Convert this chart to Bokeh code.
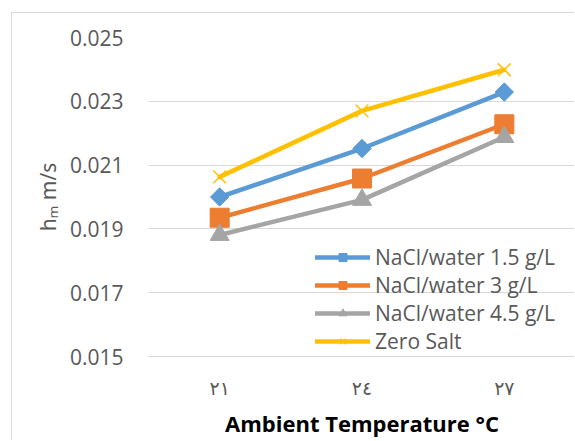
import math
from bokeh.plotting import figure
from bokeh.models import Legend, LegendItem, FactorRange, Range1d, FixedTicker, CustomJSTickFormatter
from bokeh.embed import file_html
from bokeh.resources import INLINE

# ---- data ----
temps = ["٢١", "٢٤", "٢٧"]
nacl_15 = [0.02000, 0.02152, 0.02329]
nacl_3 = [0.01935, 0.02058, 0.02228]
nacl_45 = [0.01881, 0.01991, 0.02188]
zero_salt = [0.02063, 0.02270, 0.02399]
y_ticks = [0.015, 0.017, 0.019, 0.021, 0.023, 0.025]
series_names = ["NaCl/water 1.5 g/L", "NaCl/water 3 g/L", "NaCl/water 4.5 g/L", "Zero Salt"]

FONT = "Open Sans"
GRAY_TXT = "#595959"

p = figure(width=563, height=428,
           x_range=FactorRange(*temps), y_range=Range1d(0.015, 0.025),
           output_backend="svg", toolbar_location=None,
           min_border_left=136, min_border_right=0, min_border_top=24, min_border_bottom=85)
p.styles = {"border-left": "1px solid #d9d9d9", "border-top": "1px solid #d9d9d9",
            "position": "absolute", "left": "11px", "top": "12px"}

p.outline_line_color = None
p.background_fill_color = "white"
p.border_fill_color = "white"

p.xgrid.grid_line_color = None
p.ygrid.grid_line_color = "#d9d9d9"
p.ygrid.grid_line_width = 1

p.yaxis.ticker = FixedTicker(ticks=y_ticks)
p.yaxis.formatter = CustomJSTickFormatter(code="return tick.toFixed(3);")
p.yaxis.axis_line_color = None
p.yaxis.major_tick_line_color = None
p.yaxis.minor_tick_line_color = None
p.yaxis.major_label_standoff = 19
p.yaxis.major_label_text_font = FONT
p.yaxis.major_label_text_font_size = "21px"
p.yaxis.major_label_text_color = GRAY_TXT
p.yaxis.axis_label = "hₘ m/s"
p.yaxis.axis_label_text_font = "Noto Sans"
p.yaxis.axis_label_text_font_style = "normal"
p.yaxis.axis_label_text_font_size = "21px"
p.yaxis.axis_label_text_color = GRAY_TXT
p.yaxis.axis_label_standoff = 5

p.xaxis.axis_line_color = "#d9d9d9"
p.xaxis.major_tick_line_color = None
p.xaxis.minor_tick_line_color = None
p.xaxis.major_label_standoff = 14
p.xaxis.major_label_text_font = "DejaVu Sans"
p.xaxis.major_label_text_font_size = "19px"
p.xaxis.major_label_text_color = GRAY_TXT
p.xaxis.axis_label = "Ambient Temperature °C"
p.xaxis.axis_label_text_font = FONT
p.xaxis.axis_label_text_font_style = "bold"
p.xaxis.axis_label_text_font_size = "22px"
p.xaxis.axis_label_text_color = "black"
p.xaxis.axis_label_standoff = 6

colors = ["#5B9BD5", "#ED7D31", "#A5A5A5", "#FFC000"]
markers = ["square", "square", "triangle", "x"]
angles = [math.pi / 4, 0, 0, 0]
sizes = [13, 19, 19, 18]
data = [nacl_15, nacl_3, nacl_45, zero_salt]

items = []
for name, ys, c, m, a, s in zip(series_names, data, colors, markers, angles, sizes):
    ln = p.line(temps, ys, line_color=c, line_width=4.5, line_join="round", line_cap="round")
    if m == "x":
        sc = p.scatter(temps, ys, marker=m, size=s, line_color=c, line_width=1.5)
    else:
        sc = p.scatter(temps, ys, marker=m, size=s, angle=a, fill_color=c, line_color=c)
    items.append(LegendItem(label=name, renderers=[ln, sc]))

legend = Legend(items=items, location=(167, 1))
legend.background_fill_alpha = 0
legend.border_line_color = None
legend.padding = 0
legend.margin = 0
legend.spacing = -2
legend.glyph_width = 55
legend.glyph_height = 20
legend.label_height = 20
legend.label_standoff = 5
legend.label_text_font = FONT
legend.label_text_font_size = "21px"
legend.label_text_color = GRAY_TXT
p.add_layout(legend, "center")

open("out.html", "w").write(file_html(p, INLINE))
